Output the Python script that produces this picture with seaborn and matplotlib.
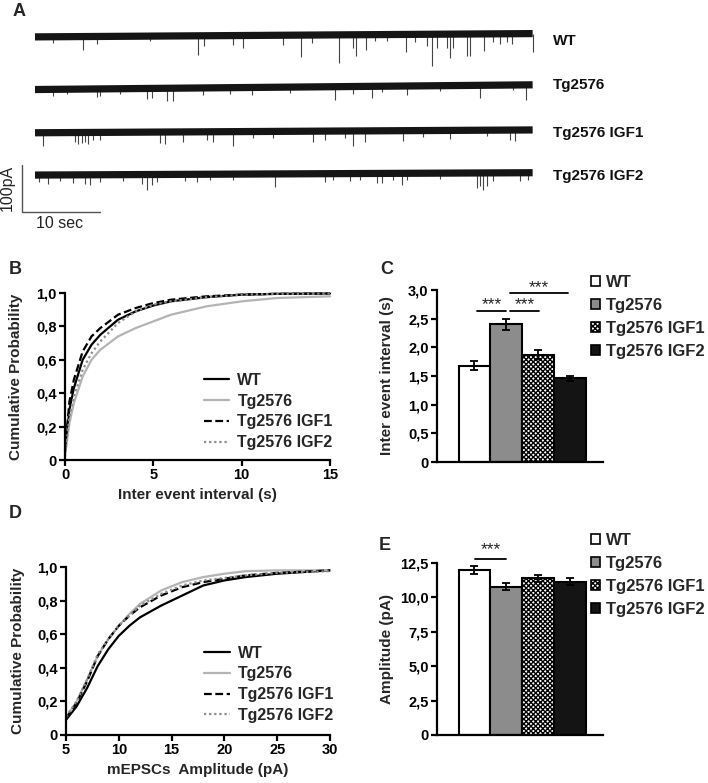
import numpy as np
import pandas as pd
import matplotlib
matplotlib.use('Agg')
import matplotlib.pyplot as plt
import seaborn as sns
from matplotlib.patches import Patch

sns.set_theme(style='white')
plt.rcParams['font.family'] = ['Liberation Sans', 'DejaVu Sans']
plt.rcParams['hatch.linewidth'] = 1.0
plt.rcParams['hatch.color'] = 'black'

GROUPS = ['WT', 'Tg2576', 'Tg2576 IGF1', 'Tg2576 IGF2']

# ---- panel A: example traces (event time in s, event amplitude in pA) ----
TRACE_BASE = {  # baseline level at start and end of the 64 s sweep (pA, offset for display)
    'WT': (-4, 3),
    'Tg2576': (-116, -106),
    'Tg2576 IGF1': (-208, -202),
    'Tg2576 IGF2': (-298, -293),
}
WT_EV_T = [2.3, 6.2, 7.9, 14.7, 20.9, 21.7, 25.4, 26.7, 31.8, 34.1, 35.5, 39.0, 40.8, 41.2,
           42.4, 43.6, 45.1, 47.6, 48.7, 50.3, 50.9, 51.5, 52.8, 53.2, 53.6, 55.4, 55.8,
           57.6, 58.7, 59.6, 60.5, 61.2, 63.8]
WT_EV_A = [13, 28, 17, 10, 40, 21, 21, 26, 21, 47, 17, 60, 28, 46,
           32, 13, 13, 38, 17, 25, 68, 30, 30, 51, 30, 46, 46,
           36, 17, 22, 17, 22, 40]
TG_EV_T = [2.3, 4.1, 7.9, 8.3, 10.9, 14.4, 15.0, 16.9, 17.7, 21.5, 25.0, 27.8, 32.7, 38.5,
           40.8, 43.2, 44.5, 47.7, 51.9, 57.1, 61.3, 62.9]
TG_EV_A = [15, 11, 17, 15, 12, 23, 20, 27, 27, 15, 13, 15, 13, 28,
           15, 25, 13, 20, 12, 28, 10, 32]
IGF1_EV_T = [1.0, 5.1, 5.5, 6.0, 6.4, 6.8, 7.4, 8.3, 16.0, 16.7, 19.0, 22.1, 22.8, 25.4,
             27.9, 30.5, 35.6, 37.2, 39.7, 40.8, 42.3, 47.2, 49.7, 53.2, 57.9, 60.9, 61.5]
IGF1_EV_A = [28, 21, 25, 23, 21, 25, 17, 17, 23, 25, 21, 17, 21, 30,
             13, 15, 23, 19, 15, 32, 23, 21, 13, 19, 13, 21, 23]
IGF2_EV_T = [0.5, 1.7, 3.2, 4.9, 6.4, 7.1, 8.3, 11.3, 13.7, 14.4, 15.0, 15.6, 19.2, 20.8,
             22.4, 25.4, 30.8, 37.2, 38.2, 40.4, 41.7, 43.8, 44.5, 45.9, 47.1, 47.7, 51.9,
             56.7, 57.1, 57.4, 57.9, 58.7, 62.2, 63.2]
IGF2_EV_A = [15, 19, 13, 17, 19, 21, 15, 13, 21, 32, 23, 17, 15, 17,
             13, 13, 28, 17, 13, 15, 13, 21, 21, 15, 25, 15, 13,
             32, 28, 36, 28, 17, 17, 15]
TRACE_EVENTS = {
    'WT': (WT_EV_T, WT_EV_A),
    'Tg2576': (TG_EV_T, TG_EV_A),
    'Tg2576 IGF1': (IGF1_EV_T, IGF1_EV_A),
    'Tg2576 IGF2': (IGF2_EV_T, IGF2_EV_A),
}
SWEEP_LEN = 63.8

# ---- panel B: cumulative probability of inter event interval ----
IEI_X = [0, 0.25, 0.5, 1, 1.5, 2, 3, 4, 5, 6, 8, 10, 12, 15]
IEI_WT = [0.05, 0.30, 0.43, 0.60, 0.69, 0.75, 0.84, 0.89, 0.925, 0.95, 0.975, 0.99, 0.995, 0.997]
IEI_TG = [0.03, 0.22, 0.34, 0.50, 0.60, 0.66, 0.74, 0.79, 0.83, 0.87, 0.92, 0.95, 0.97, 0.98]
IEI_IGF1 = [0.06, 0.35, 0.48, 0.65, 0.74, 0.79, 0.87, 0.91, 0.94, 0.96, 0.98, 0.99, 0.995, 0.997]
IEI_IGF2 = [0.02, 0.26, 0.38, 0.54, 0.64, 0.71, 0.82, 0.89, 0.93, 0.95, 0.975, 0.99, 0.995, 0.997]

# ---- panel D: cumulative probability of mEPSC amplitude ----
AMP_X = [5, 6, 7, 8, 9, 10, 11, 12, 14, 16, 18, 20, 22, 25, 30]
AMP_WT = [0.09, 0.17, 0.28, 0.41, 0.51, 0.59, 0.65, 0.70, 0.77, 0.83, 0.89, 0.92, 0.94, 0.96, 0.98]
AMP_TG = [0.10, 0.20, 0.33, 0.47, 0.57, 0.65, 0.72, 0.78, 0.86, 0.91, 0.94, 0.96, 0.975, 0.98, 0.98]
AMP_IGF1 = [0.10, 0.19, 0.32, 0.47, 0.57, 0.65, 0.71, 0.76, 0.83, 0.88, 0.91, 0.93, 0.95, 0.965, 0.98]
AMP_IGF2 = [0.11, 0.20, 0.33, 0.48, 0.57, 0.65, 0.71, 0.77, 0.84, 0.89, 0.92, 0.935, 0.95, 0.965, 0.975]

# ---- panels C / E: means +- SEM ----
IEI_MEAN = [1.68, 2.40, 1.87, 1.46]
IEI_SEM = [0.08, 0.09, 0.08, 0.04]
AMP_MEAN = [12.0, 10.77, 11.38, 11.15]
AMP_SEM = [0.28, 0.25, 0.25, 0.28]

CUM_TICKS = [0, 0.2, 0.4, 0.6, 0.8, 1.0]
CUM_TICKLABELS = ['0', '0,2', '0,4', '0,6', '0,8', '1,0']
IEI_XTICKS = [0, 5, 10, 15]
AMP_XTICKS = [5, 10, 15, 20, 25, 30]
C_TICKS = [0, 0.5, 1.0, 1.5, 2.0, 2.5, 3.0]
C_TICKLABELS = ['0', '0,5', '1,0', '1,5', '2,0', '2,5', '3,0']
E_TICKS = [0, 2.5, 5.0, 7.5, 10.0, 12.5]
E_TICKLABELS = ['0', '2,5', '5,0', '7,5', '10,0', '12,5']

LINE_COLORS = {'WT': 'black', 'Tg2576': '#b4b4b4', 'Tg2576 IGF1': 'black', 'Tg2576 IGF2': '#8a8a8a'}
LINE_DASHES = {'WT': '', 'Tg2576': '', 'Tg2576 IGF1': (3.5, 1.6), 'Tg2576 IGF2': (1, 1.3)}
BAR_COLORS = ['white', '#8c8c8c', 'white', '#141414']
CHECKER = 'xxxxxxx'

W, H = 708, 783
fig = plt.figure(figsize=(W / 100, H / 100), dpi=100)


def fbox(left, top, right, bottom):
    return [left / W, 1 - bottom / H, (right - left) / W, (bottom - top) / H]


FS = 10.5


def style_axes(ax):
    sns.despine(ax=ax)
    for s in ['left', 'bottom']:
        ax.spines[s].set_linewidth(1.6)
        ax.spines[s].set_color('black')
    ax.tick_params(direction='out', length=4, width=1.6, labelsize=FS, pad=2,
                   colors='black', left=True, bottom=True)
    for lab in ax.get_xticklabels() + ax.get_yticklabels():
        lab.set_fontweight('bold')
    ax.grid(False)
    ax.set_facecolor('white')


# ---------------- panel A ----------------
axA = fig.add_axes([0, 1 - 235 / H, 1, 235 / H])
axA.set_xlim(-35 / 7.8, (W - 35) / 7.8)
axA.set_ylim(-(235 - 35) / 0.47, 35 / 0.47)
axA.axis('off')
label_py = [41, 85, 133, 176]
for g, lpy in zip(GROUPS, label_py):
    b0, b1 = TRACE_BASE[g]
    ev_t, ev_a = TRACE_EVENTS[g]
    base = np.interp(ev_t, [0, SWEEP_LEN], [b0, b1])
    axA.vlines(ev_t, base, base - np.array(ev_a), color='#444444', lw=0.8)
    axA.plot([0, SWEEP_LEN], [b0, b1], color='#151515', lw=5.2, solid_capstyle='butt')
    axA.text(SWEEP_LEN + 2.6, -(lpy - 35) / 0.47, g, fontsize=FS + 0.5, fontweight='bold',
             va='center', ha='left', color='#111111')
# scale bar: 100 pA / 10 s
axA.plot([-1.67, -1.67, 8.33], [-276.6, -376.6, -376.6], color='#555555', lw=1.0)
axA.text(-3.5, -326, '100pA', rotation=90, fontsize=FS + 1, ha='center', va='center', color='#222222')
axA.text(3.2, -400, '10 sec', fontsize=FS + 1, ha='center', va='center', color='#222222')

# ---------------- panels B / D ----------------
def cum_panel(box, xs, series, xticks, xlim, xlabel, leg_top):
    ax = fig.add_axes(box)
    df = pd.concat([pd.DataFrame({'x': xs, 'y': ys, 'group': g}) for g, ys in zip(GROUPS, series)])
    sns.lineplot(data=df, x='x', y='y', hue='group', style='group', hue_order=GROUPS,
                 style_order=GROUPS, palette=LINE_COLORS, dashes=LINE_DASHES, lw=1.6, ax=ax)
    for ln in ax.get_lines():
        ln.set_clip_on(False)
    ax.set_xlim(*xlim)
    ax.set_ylim(0, 1.0)
    ax.set_yticks(CUM_TICKS, CUM_TICKLABELS)
    ax.set_xticks(xticks, [str(t) for t in xticks])
    ax.set_xlabel(xlabel, fontsize=FS + 0.5, fontweight='bold', labelpad=4)
    ax.set_ylabel('Cumulative Probability', fontsize=FS + 0.5, fontweight='bold')
    ax.yaxis.set_label_coords(-0.157, 0.5)
    style_axes(ax)
    handles, labels = ax.get_legend_handles_labels()
    ax.legend(handles, labels, loc='upper left', bbox_to_anchor=(0.5, leg_top), frameon=False,
              handlelength=1.6, handletextpad=0.5, labelspacing=0.36,
              borderaxespad=0, prop={'weight': 'bold', 'size': FS + 1})
    return ax


axB = cum_panel(fbox(65, 293, 330, 460), IEI_X, [IEI_WT, IEI_TG, IEI_IGF1, IEI_IGF2],
                IEI_XTICKS, (0, 15), 'Inter event interval (s)', 0.56)
axD = cum_panel(fbox(66, 567, 330, 735), AMP_X, [AMP_WT, AMP_TG, AMP_IGF1, AMP_IGF2],
                AMP_XTICKS, (5, 30), 'mEPSCs  Amplitude (pA)', 0.57)

# ---------------- panels C / E ----------------
def bar_panel(box, means, sems, yticks, ylabels, ylabel, sig, leg_top):
    ax = fig.add_axes(box)
    sns.barplot(x=GROUPS, y=means, hue=GROUPS, palette=BAR_COLORS, order=GROUPS,
                hue_order=GROUPS, width=1.0, edgecolor='black', linewidth=1.5,
                errorbar=None, legend=False, ax=ax)
    ax.patches[2].set_hatch(CHECKER)
    ax.errorbar(range(len(GROUPS)), means, yerr=sems, fmt='none', ecolor='black',
                elinewidth=1.3, capsize=3, capthick=1.3, zorder=5)
    ax.set_xlim(-1.18, 4.05)
    ax.set_ylim(0, yticks[-1])
    ax.set_yticks(yticks, ylabels)
    ax.set_xticks([])
    ax.set_ylabel(ylabel, fontsize=FS + 0.5, fontweight='bold')
    ax.yaxis.set_label_coords(-0.26, 0.5)
    style_axes(ax)
    for x0, x1, yl, ys in sig:
        ax.plot([x0, x1], [yl, yl], color='black', lw=1.3, clip_on=False)
        ax.text((x0 + x1) / 2, ys, '***', ha='center', va='center', fontsize=FS + 2,
                color='#222222', clip_on=False)
    handles = [Patch(facecolor=c, edgecolor='black', lw=1.2, hatch=h)
               for c, h in zip(BAR_COLORS, ['', '', CHECKER, ''])]
    fig.legend(handles, GROUPS, loc='upper left', bbox_to_anchor=(591 / W, 1 - leg_top / H),
               frameon=False, handlelength=0.55, handleheight=0.55, handletextpad=0.35,
               labelspacing=0.48, borderaxespad=0, borderpad=0,
               prop={'weight': 'bold', 'size': FS + 1.5})
    return ax


axC = bar_panel(fbox(437, 290, 603, 462), IEI_MEAN, IEI_SEM, C_TICKS, C_TICKLABELS,
                'Inter event interval (s)',
                [(0.08, 0.99, 2.63, 2.74), (1.12, 2.03, 2.63, 2.74), (1.12, 2.94, 2.94, 3.05)], 275)
axE = bar_panel(fbox(437, 563, 603, 735), AMP_MEAN, AMP_SEM, E_TICKS, E_TICKLABELS,
                'Amplitude (pA)', [(0.02, 0.99, 12.8, 13.45)], 533)

# panel letters
for letter, px, py in [('A', 19, 12), ('B', 15, 270), ('C', 387, 270), ('D', 15, 513), ('E', 385, 545)]:
    fig.text(px / W, 1 - py / H, letter, fontsize=13, fontweight='bold', ha='center', va='center')

fig.savefig('out.png', dpi=100, facecolor='white')
